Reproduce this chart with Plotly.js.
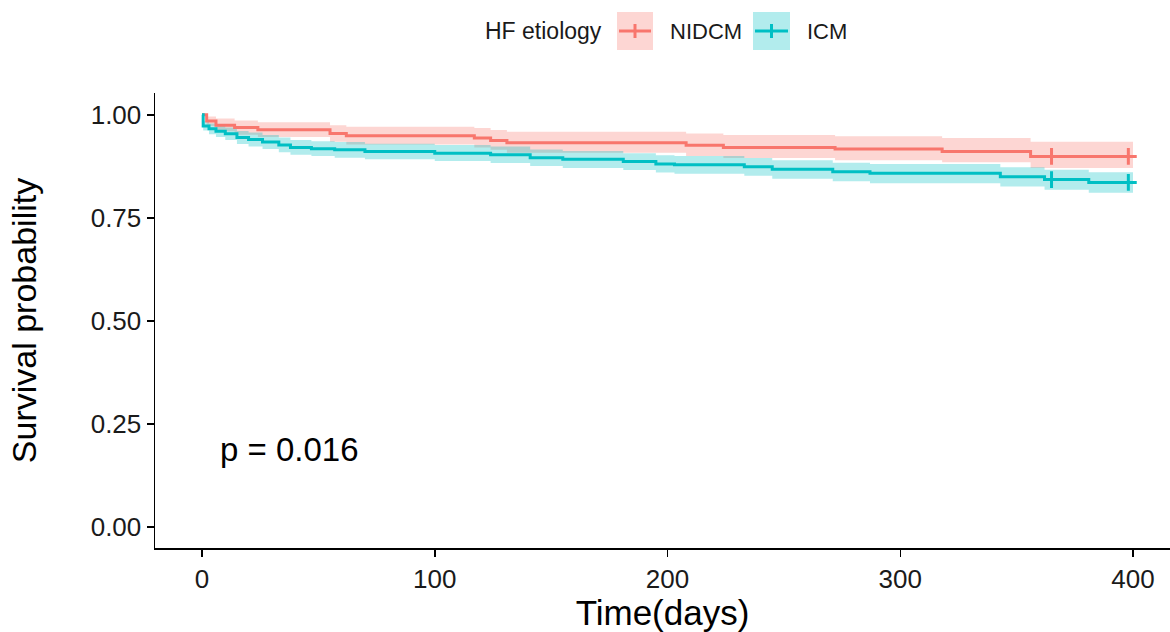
<!DOCTYPE html>
<html>
<head>
<meta charset="utf-8">
<script src="https://cdn.plot.ly/plotly-3.0.1.min.js"></script>
<style>html,body{margin:0;padding:0;background:#fff;}#chart{width:1170px;height:632px;}</style>
</head>
<body>
<div id="chart"></div>
<script>
// ---- Data ----
const groups = ["NIDCM", "ICM"];
const legendTitle = "HF etiology";
const pText = "p = 0.016";

const nidcmTime  = [0, 2, 6, 14, 24, 55, 62, 117, 124, 131, 208, 224, 272, 318, 356, 400];
const nidcmSurv  = [1.000, 0.985, 0.975, 0.969, 0.964, 0.955, 0.949, 0.944, 0.938, 0.932, 0.926, 0.921, 0.917, 0.911, 0.899, 0.899];
const nidcmUpper = [1.000, 0.996, 0.991, 0.986, 0.982, 0.975, 0.971, 0.968, 0.963, 0.959, 0.955, 0.951, 0.948, 0.944, 0.935, 0.935];
const nidcmLower = [1.000, 0.973, 0.960, 0.952, 0.946, 0.935, 0.928, 0.921, 0.915, 0.908, 0.900, 0.895, 0.890, 0.885, 0.871, 0.871];
const nidcmCensorTime = [365, 398];
const nidcmCensorSurv = [0.899, 0.899];

const icmTime  = [0, 0.5, 3, 6, 10, 15, 20, 26, 33, 38, 47, 57, 70, 100, 124, 141, 155, 181, 195, 203, 233, 245, 271, 287, 343, 362, 381, 400];
const icmSurv  = [1.000, 0.973, 0.966, 0.960, 0.954, 0.945, 0.940, 0.934, 0.927, 0.921, 0.918, 0.915, 0.911, 0.907, 0.903, 0.896, 0.892, 0.887, 0.881, 0.879, 0.874, 0.868, 0.862, 0.858, 0.850, 0.843, 0.836, 0.836];
const icmUpper = [1.000, 0.985, 0.979, 0.974, 0.969, 0.961, 0.957, 0.951, 0.945, 0.939, 0.936, 0.934, 0.930, 0.927, 0.923, 0.916, 0.912, 0.907, 0.902, 0.900, 0.895, 0.890, 0.884, 0.881, 0.873, 0.867, 0.861, 0.861];
const icmLower = [1.000, 0.962, 0.953, 0.946, 0.939, 0.929, 0.923, 0.917, 0.909, 0.903, 0.900, 0.896, 0.892, 0.888, 0.883, 0.876, 0.871, 0.866, 0.860, 0.857, 0.852, 0.845, 0.839, 0.834, 0.826, 0.818, 0.811, 0.811];
const icmCensorTime = [365, 398];
const icmCensorSurv = [0.843, 0.836];

const xTicks = [0, 100, 200, 300, 400];
const yTicks = [0, 0.25, 0.5, 0.75, 1.0];

// ---- Styles ----
const RED = "#F8766D", TEAL = "#00BFC4";
const RED_FILL = "rgba(248,118,109,0.30)", TEAL_FILL = "rgba(0,191,196,0.30)";
const FONT = "Liberation Sans, Arial, sans-serif";

function bandTraces(t, up, lo, fill) {
  return [
    {x: t, y: up, type: "scatter", mode: "lines", line: {width: 0, shape: "hv", color: fill}, showlegend: false, hoverinfo: "skip"},
    {x: t, y: lo, type: "scatter", mode: "lines", line: {width: 0, shape: "hv", color: fill}, fill: "tonexty", fillcolor: fill, showlegend: false, hoverinfo: "skip"}
  ];
}
function lineTrace(t, s, color, name) {
  return {x: t, y: s, type: "scatter", mode: "lines", name: name, line: {color: color, width: 3, shape: "hv"}, showlegend: false};
}
function censorTrace(t, s, color) {
  return {x: t, y: s, type: "scatter", mode: "markers", marker: {symbol: "cross-thin", size: 12, color: color, line: {color: color, width: 3}}, showlegend: false};
}

const data = [
  ...bandTraces(nidcmTime, nidcmUpper, nidcmLower, RED_FILL),
  ...bandTraces(icmTime, icmUpper, icmLower, TEAL_FILL),
  lineTrace(nidcmTime, nidcmSurv, RED, groups[0]),
  lineTrace(icmTime, icmSurv, TEAL, groups[1]),
  censorTrace(nidcmCensorTime, nidcmCensorSurv, RED),
  censorTrace(icmCensorTime, icmCensorSurv, TEAL)
];

// ---- Custom legend (paper coords) ----
const L = 155, R = 1170, T = 93, B = 548;
const px = v => (v - L) / (R - L);
const py = v => (B - v) / (B - T);
const legendItems = [
  {name: groups[0], color: RED, fill: RED_FILL, x0: 617, x1: 653, tx: 668},
  {name: groups[1], color: TEAL, fill: TEAL_FILL, x0: 753, x1: 790, tx: 805}
];
const shapes = [], annotations = [];
annotations.push({xref: "paper", yref: "paper", x: px(483), y: py(31), xanchor: "left", yanchor: "middle",
  text: legendTitle, showarrow: false, font: {family: FONT, size: 23, color: "#1a1a1a"}});
legendItems.forEach(it => {
  shapes.push({type: "rect", xref: "paper", yref: "paper", x0: px(it.x0), x1: px(it.x1), y0: py(50), y1: py(12), fillcolor: it.fill, line: {width: 0}, layer: "above"});
  shapes.push({type: "line", xref: "paper", yref: "paper", x0: px(it.x0 + 2), x1: px(it.x1 - 2), y0: py(31), y1: py(31), line: {color: it.color, width: 3}, layer: "above"});
  const cx = (it.x0 + it.x1) / 2;
  shapes.push({type: "line", xref: "paper", yref: "paper", x0: px(cx), x1: px(cx), y0: py(24), y1: py(38), line: {color: it.color, width: 3}, layer: "above"});
  annotations.push({xref: "paper", yref: "paper", x: px(it.tx), y: py(31), xanchor: "left", yanchor: "middle",
    text: it.name, showarrow: false, font: {family: FONT, size: 22, color: "#1a1a1a"}});
});
annotations.push({xref: "x", yref: "y", x: 6.9, y: 0.187, xanchor: "left", yanchor: "middle",
  text: pText, showarrow: false, font: {family: FONT, size: 33, color: "#000"}});

const layout = {
  width: 1170, height: 632,
  margin: {l: L, r: 1170 - R, t: T, b: 632 - B, pad: 0},
  paper_bgcolor: "#fff", plot_bgcolor: "#fff",
  showlegend: false,
  font: {family: FONT, color: "#1a1a1a"},
  xaxis: {
    range: [-20.2, 415.9], tickvals: xTicks, ticktext: xTicks.map(String),
    showgrid: false, zeroline: false, showline: true, linecolor: "#000", linewidth: 1.5,
    ticks: "outside", ticklen: 7, tickwidth: 1.5, tickcolor: "#000",
    tickfont: {family: FONT, size: 26, color: "#1a1a1a"},
    title: {text: "Time(days)", font: {family: FONT, size: 35, color: "#000"}, standoff: 4}
  },
  yaxis: {
    range: [-0.051, 1.053], tickvals: yTicks, ticktext: yTicks.map(v => v.toFixed(2)),
    showgrid: false, zeroline: false, showline: true, linecolor: "#000", linewidth: 1.5,
    ticks: "outside", ticklen: 7, tickwidth: 1.5, tickcolor: "#000",
    tickfont: {family: FONT, size: 26, color: "#1a1a1a"},
    title: {text: "Survival probability", font: {family: FONT, size: 34, color: "#000"}, standoff: 44}
  },
  shapes: shapes,
  annotations: annotations
};

Plotly.newPlot("chart", data, layout, {displayModeBar: false, staticPlot: true});
</script>
</body>
</html>
